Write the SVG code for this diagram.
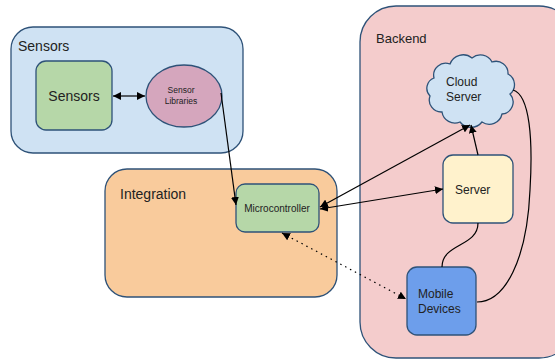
<svg xmlns="http://www.w3.org/2000/svg" width="555" height="360" viewBox="0 0 555 360">
<defs>
<marker id="arr" viewBox="0 0 10 10" refX="10" refY="5" markerWidth="8" markerHeight="8" markerUnits="userSpaceOnUse" orient="auto-start-reverse">
<path d="M0,0 L10,5 L0,10 Z" fill="#000"/>
</marker>
<style>
.grp{stroke:#2e5278;stroke-width:1.3}
.nd{stroke:#2e5278;stroke-width:1.3}
.t{font-family:"Liberation Sans",Arial,sans-serif;fill:#222}
.c{fill:none;stroke:#000;stroke-width:1.2}
</style>
</defs>
<rect width="555" height="360" fill="#fff"/>
<g id="sensors-group">
<rect class="grp" x="11" y="27" width="232" height="126" rx="22" fill="#cfe2f3"/>
<text class="t" x="18" y="51" font-size="14">Sensors</text>
</g>
<g id="integration-group">
<rect class="grp" x="105" y="169" width="232" height="128" rx="22" fill="#f9cb9c"/>
<text class="t" x="120" y="199" font-size="14">Integration</text>
</g>
<g id="backend-group">
<rect class="grp" x="360" y="6" width="215" height="352" rx="36" fill="#f4cccc"/>
<text class="t" x="376" y="43" font-size="13">Backend</text>
</g>
<g id="sensors">
<rect class="nd" x="36" y="61" width="76" height="69" rx="10" fill="#b6d7a8"/>
<text class="t" x="74" y="101" font-size="14" text-anchor="middle">Sensors</text>
</g>
<g id="sensor-libraries">
<ellipse class="nd" cx="184" cy="96" rx="38" ry="31" fill="#d5a6bd"/>
<text class="t" x="181" y="93" font-size="8.5" text-anchor="middle">Sensor</text>
<text class="t" x="181" y="104" font-size="8.5" text-anchor="middle">Libraries</text>
</g>
<g id="microcontroller">
<rect class="nd" x="236" y="184" width="83" height="48" rx="9" fill="#b6d7a8"/>
<text class="t" x="277" y="212" font-size="10" text-anchor="middle">Microcontroller</text>
</g>
<g id="cloud-server">
<path class="nd" fill="#cfe2f3" d="M434 78 a12 12 0 0 1 16 -14 a14 14 0 0 1 22 -6 a13 13 0 0 1 20 4 a12 12 0 0 1 16 12 a12 12 0 0 1 2 20 a12 12 0 0 1 -8 20 a13 13 0 0 1 -20 8 a14 14 0 0 1 -22 0 a13 13 0 0 1 -18 -10 a12 12 0 0 1 -12 -16 a11 11 0 0 1 4 -18 Z"/>
<text class="t" x="446" y="86" font-size="12">Cloud</text>
<text class="t" x="446" y="101" font-size="12">Server</text>
</g>
<g id="server">
<rect class="nd" x="443" y="155" width="70" height="68" rx="10" fill="#fff2cc"/>
<text class="t" x="455" y="194" font-size="12">Server</text>
</g>
<g id="mobile-devices">
<rect class="nd" x="407" y="267" width="69" height="68" rx="10" fill="#6d9eeb"/>
<text class="t" x="418" y="298" font-size="12">Mobile</text>
<text class="t" x="418" y="313" font-size="12">Devices</text>
</g>
<g id="connectors">
<line class="c" x1="113" y1="96" x2="145" y2="96" marker-start="url(#arr)" marker-end="url(#arr)"/>
<line class="c" x1="221" y1="93" x2="236" y2="205" marker-end="url(#arr)"/>
<line class="c" x1="320" y1="207" x2="470" y2="125" marker-start="url(#arr)" marker-end="url(#arr)"/>
<line class="c" x1="320" y1="209" x2="443" y2="189" marker-start="url(#arr)" marker-end="url(#arr)"/>
<line class="c" x1="478" y1="155" x2="471" y2="125" marker-end="url(#arr)"/>
<path class="c" d="M478 223 C478 247 442 243 442 267"/>
<path class="c" d="M513 90 C530 95 533 140 530 190 C527 260 505 302 477 302"/>
<line class="c" x1="282" y1="233" x2="406" y2="299" stroke-dasharray="1.5,4" marker-start="url(#arr)" marker-end="url(#arr)"/>
</g>
</svg>
